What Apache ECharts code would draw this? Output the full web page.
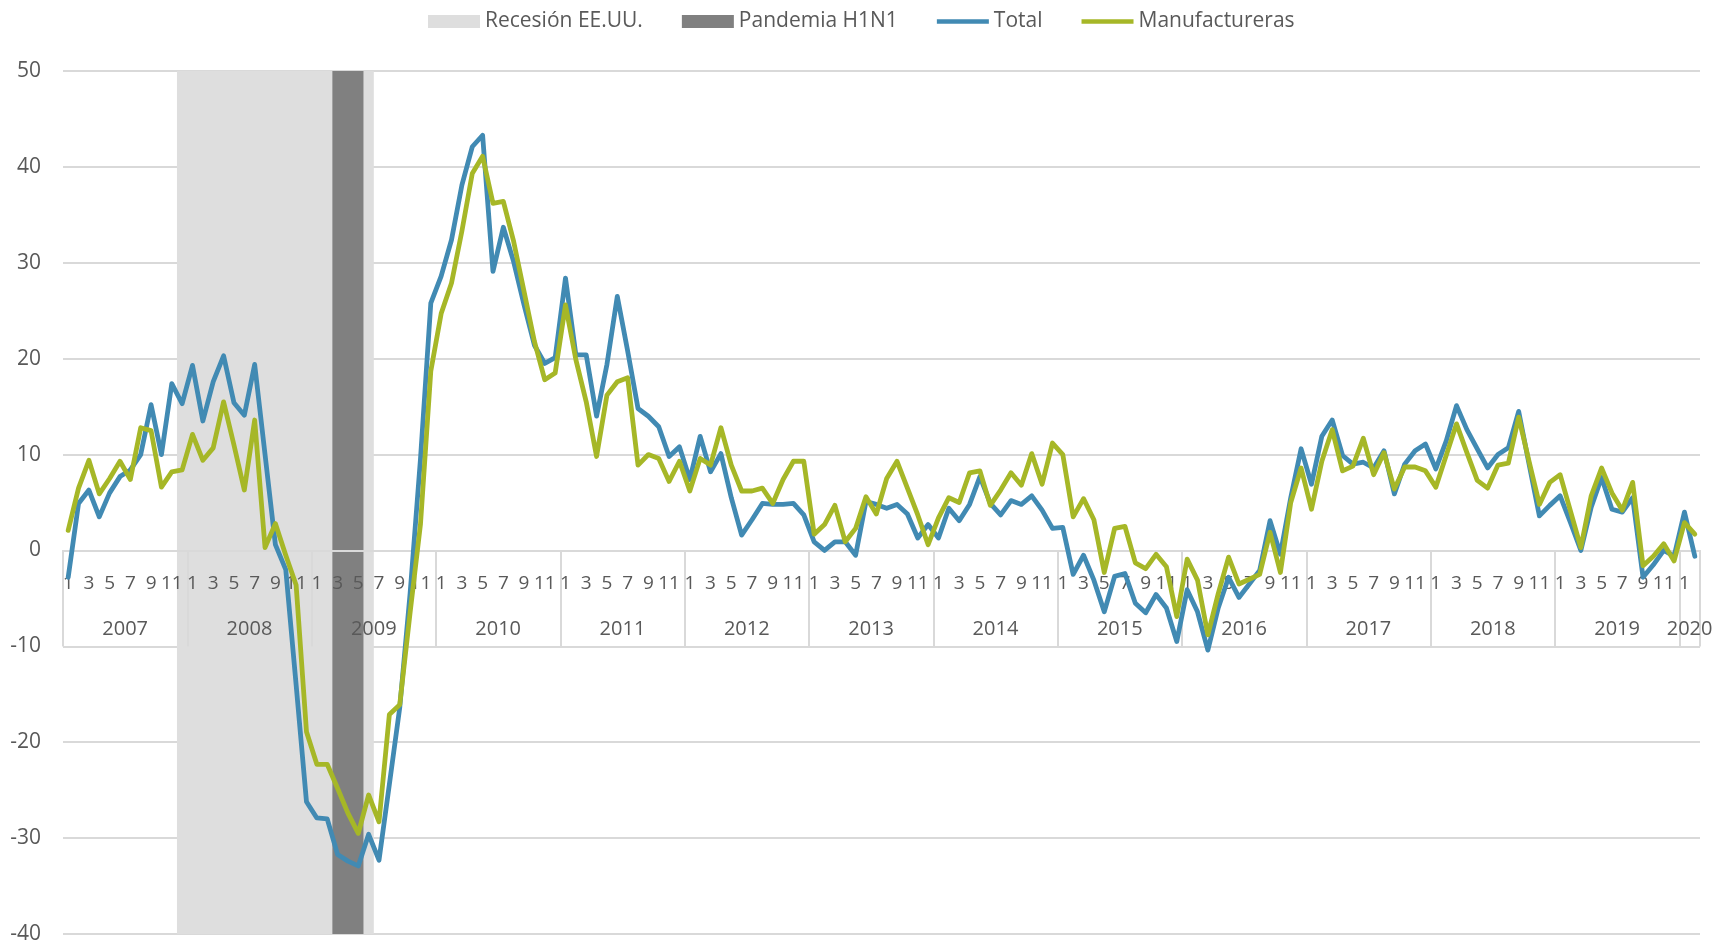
<!DOCTYPE html>
<html>
<head>
<meta charset="utf-8">
<title>Total y Manufactureras</title>
<script src="https://cdn.jsdelivr.net/npm/echarts@6.0.0/dist/echarts.min.js"></script>
<style>
  html, body { margin: 0; padding: 0; background: #ffffff; }
  #chart { width: 1733px; height: 947px; }
</style>
</head>
<body>
<div id="chart"></div>
<script>
// ene 2007 - feb 2020, mensual
const years = [2007, 2008, 2009, 2010, 2011, 2012, 2013, 2014, 2015, 2016, 2017, 2018, 2019, 2020];
const monthsInLastYear = 2;

// periodos sombreados (inicio, fin)
const recesion = ['2007-12', '2009-6'];
const pandemia = ['2009-3', '2009-5'];

const yMin = -40;
const yMax = 50;

const total = [
  -2.8, 4.9, 6.3, 3.5, 6.0, 7.7, 8.4, 10.0, 15.2, 10.0, 17.4, 15.3,
  19.3, 13.5, 17.6, 20.3, 15.4, 14.1, 19.4, 10.0, 0.6, -2.0, -14.0, -26.2,
  -27.9, -28.0, -31.7, -32.4, -32.9, -29.6, -32.3, -24.4, -16.4, -4.5, 9.5, 25.8,
  28.6, 32.4, 38.1, 42.1, 43.3, 29.1, 33.7, 30.1, 25.6, 21.4, 19.5, 20.1,
  28.4, 20.4, 20.4, 14.0, 19.4, 26.5, 20.8, 14.8, 14.0, 12.9, 9.8, 10.8,
  7.4, 11.9, 8.2, 10.1, 5.5, 1.6, 3.2, 4.9, 4.8, 4.8, 4.9, 3.7,
  0.9, 0.0, 0.9, 0.9, -0.5, 5.1, 4.8, 4.4, 4.8, 3.8, 1.3, 2.7,
  1.3, 4.4, 3.1, 4.8, 7.7, 4.9, 3.7, 5.2, 4.8, 5.7, 4.2, 2.3,
  2.4, -2.5, -0.5, -3.1, -6.4, -2.7, -2.4, -5.5, -6.5, -4.6, -6.0, -9.5,
  -4.1, -6.4, -10.4, -6.0, -2.8, -4.9, -3.5, -2.1, 3.1, -0.4, 5.5, 10.6,
  6.9, 11.9, 13.6, 9.9, 9.0, 9.2, 8.6, 10.4, 5.9, 9.0, 10.4, 11.1,
  8.5, 11.4, 15.1, 12.6, 10.6, 8.6, 10.0, 10.7, 14.5, 9.0, 3.6, 4.7,
  5.7, 2.9, 0.0, 4.5, 7.6, 4.3, 4.0, 5.5, -2.8, -1.5, 0.0, -0.6,
  4.0, -0.6
];

const manufactureras = [
  2.1, 6.5, 9.4, 5.9, 7.5, 9.3, 7.4, 12.8, 12.5, 6.6, 8.2, 8.4,
  12.1, 9.4, 10.7, 15.5, 11.0, 6.3, 13.6, 0.3, 2.8, -0.5, -3.6, -18.9,
  -22.3, -22.3, -24.8, -27.4, -29.5, -25.5, -28.3, -17.1, -16.1, -6.5, 2.7, 18.7,
  24.7, 27.9, 33.3, 39.3, 41.1, 36.2, 36.4, 32.2, 27.0, 21.8, 17.8, 18.5,
  25.6, 19.9, 15.5, 9.8, 16.2, 17.6, 18.0, 8.9, 10.0, 9.6, 7.2, 9.3,
  6.2, 9.6, 8.9, 12.8, 8.9, 6.2, 6.2, 6.5, 4.9, 7.4, 9.3, 9.3,
  1.7, 2.7, 4.7, 0.9, 2.3, 5.6, 3.8, 7.5, 9.3, 6.5, 3.7, 0.6,
  3.4, 5.5, 5.0, 8.1, 8.3, 4.7, 6.3, 8.1, 6.8, 10.1, 6.9, 11.2,
  10.0, 3.5, 5.4, 3.2, -2.3, 2.3, 2.5, -1.3, -1.9, -0.4, -1.7, -6.9,
  -0.9, -3.1, -8.8, -4.5, -0.7, -3.5, -3.0, -2.5, 1.9, -2.3, 5.0, 8.6,
  4.3, 9.3, 12.6, 8.3, 8.8, 11.7, 7.9, 10.2, 6.4, 8.7, 8.7, 8.3,
  6.6, 9.9, 13.2, 10.2, 7.3, 6.5, 8.9, 9.1, 13.9, 9.3, 4.8, 7.1,
  7.9, 4.1, 0.3, 5.7, 8.6, 6.0, 4.2, 7.1, -1.6, -0.6, 0.7, -1.1,
  2.9, 1.7
];

// categorias "año-mes"
const categories = [];
years.forEach(function (y, k) {
  const n = k === years.length - 1 ? monthsInLastYear : 12;
  for (let m = 1; m <= n; m++) categories.push(y + '-' + m);
});

const FONT = '"Open Sans", "DejaVu Sans", sans-serif';
const TEXT = '#595959';
const GRID = '#D9D9D9';
const BLUE = '#418AB3';
const GREEN = '#A6B727';

const W = 1733, H = 947;
const gridBox = { left: 63, right: 33, top: 71, bottom: 13 };
// el eje de categorias cruza en y = 0: desplazamiento desde el borde inferior del grid
const plotH = H - gridBox.top - gridBox.bottom;
const zeroOffset = -plotH * (0 - yMin) / (yMax - yMin);

// area sombreada sobre el eje auxiliar (en unidades de mes)
function bandArea(range) {
  return [[
    { xAxis: categories.indexOf(range[0]) },
    { xAxis: categories.indexOf(range[1]) + 1 }
  ]];
}

const lineIcon = 'path://M0,0L52,0L52,4.5L0,4.5Z';

const chart = echarts.init(document.getElementById('chart'), null, { renderer: 'canvas' });

chart.setOption({
  animation: false,
  backgroundColor: '#ffffff',
  textStyle: { fontFamily: FONT },
  legend: {
    top: 6,
    left: 423,
    itemWidth: 52,
    itemHeight: 13,
    itemGap: 39,
    textStyle: { fontFamily: FONT, fontSize: 21, color: TEXT },
    data: [
      { name: 'Recesión EE.UU.', icon: 'rect' },
      { name: 'Pandemia H1N1', icon: 'rect' },
      { name: 'Total', icon: lineIcon, itemStyle: { color: BLUE, borderWidth: 0 } },
      { name: 'Manufactureras', icon: lineIcon, itemStyle: { color: GREEN, borderWidth: 0 } }
    ]
  },
  grid: {
    left: gridBox.left, right: gridBox.right, top: gridBox.top, bottom: gridBox.bottom,
    containLabel: false,
    outerBoundsMode: 'none'
  },
  xAxis: [
    {
      type: 'category',
      data: categories,
      position: 'bottom',
      offset: zeroOffset,
      boundaryGap: true,
      z: 2,
      axisLine: { onZero: false, lineStyle: { color: GRID, width: 2 } },
      axisTick: { show: false },
      splitLine: { show: false },
      axisLabel: {
        interval: 1,
        margin: 24,
        fontFamily: FONT,
        fontSize: 19,
        color: TEXT,
        formatter: function (v) { return v.split('-')[1]; }
      }
    },
    {
      type: 'category',
      data: categories,
      position: 'bottom',
      offset: zeroOffset,
      boundaryGap: true,
      z: 2,
      axisLine: { onZero: false, lineStyle: { color: GRID, width: 2 } },
      axisTick: {
        show: true,
        length: 96,
        interval: function (i) { return i % 12 === 0; },
        lineStyle: { color: GRID, width: 2 }
      },
      splitLine: { show: false },
      axisLabel: {
        interval: function (i) { return i % 12 === 6 || i === categories.length - 1; },
        margin: 69,
        padding: [0, 10.4, 0, 0],
        fontFamily: FONT,
        fontSize: 20,
        color: TEXT,
        formatter: function (v) { return v.split('-')[0]; }
      }
    },
    {
      type: 'value',
      min: 0,
      max: categories.length,
      show: false
    }
  ],
  yAxis: {
    type: 'value',
    min: yMin,
    max: yMax,
    interval: 10,
    axisLine: { show: false },
    axisTick: { show: false },
    splitLine: { lineStyle: { color: GRID, width: 2 } },
    axisLabel: { margin: 22, fontFamily: FONT, fontSize: 21, color: TEXT }
  },
  series: [
    {
      name: 'Recesión EE.UU.',
      type: 'line',
      xAxisIndex: 2,
      data: [],
      color: '#DEDEDE',
      z: 1,
      silent: true,
      markArea: { silent: true, itemStyle: { color: '#DEDEDE' }, data: bandArea(recesion) }
    },
    {
      name: 'Pandemia H1N1',
      type: 'line',
      xAxisIndex: 2,
      data: [],
      color: '#808080',
      z: 1,
      silent: true,
      markArea: { silent: true, itemStyle: { color: '#808080' }, data: bandArea(pandemia) }
    },
    {
      name: 'Total',
      type: 'line',
      xAxisIndex: 0,
      data: total,
      color: BLUE,
      symbol: 'none',
      z: 3,
      lineStyle: { width: 4.8, color: BLUE, join: 'round', cap: 'round' }
    },
    {
      name: 'Manufactureras',
      type: 'line',
      xAxisIndex: 0,
      data: manufactureras,
      color: GREEN,
      symbol: 'none',
      z: 4,
      lineStyle: { width: 4.8, color: GREEN, join: 'round', cap: 'round' }
    }
  ]
});
</script>
</body>
</html>
